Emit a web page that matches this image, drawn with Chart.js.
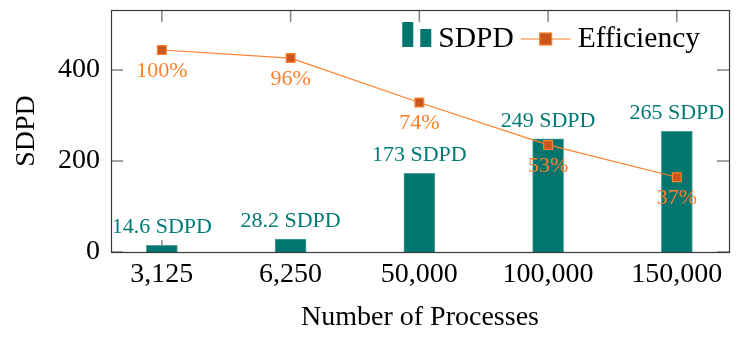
<!DOCTYPE html>
<html lang="en">
<head>
<meta charset="UTF-8">
<title>SDPD and Efficiency</title>
<script src="https://cdn.jsdelivr.net/npm/chart.js"></script>
<style>
  html, body { margin: 0; padding: 0; background: #fff; }
</style>
</head>
<body>
<canvas id="chart" width="741" height="339"></canvas>
<script>
// values
const processes = ['3,125', '6,250', '50,000', '100,000', '150,000'];
const sdpd = [14.6, 28.2, 173, 249, 265];
const sdpdLabels = ['14.6 SDPD', '28.2 SDPD', '173 SDPD', '249 SDPD', '265 SDPD'];
const efficiency = [100, 96, 74, 53, 37];
const efficiencyLabels = ['100%', '96%', '74%', '53%', '37%'];
const yTicks = [0, 200, 400];

const serif = '"Liberation Serif", "Times New Roman", serif';
const teal = '#00766f';
const tealText = '#007a74';
const orange = '#ff7f2a';
const orangeDark = '#c8561e';
const tickGray = '#8c8c8c';
const xMin = -0.395, xMax = 4.405;

// pgfplots-style inward tick marks, drawn as thin filled rects
function drawTickMarks(chart, sides) {
  const {ctx, chartArea: a} = chart;
  const xs = chart.scales.x, ys = chart.scales.y;
  ctx.save();
  ctx.fillStyle = tickGray;
  processes.forEach((_, i) => {
    const px = xs.getPixelForValue(i);
    if (sides.includes('top')) ctx.fillRect(px - 0.8, a.top, 1.6, 12);
    if (sides.includes('bottom')) ctx.fillRect(px - 0.8, a.bottom - 12, 1.6, 12);
  });
  yTicks.forEach(v => {
    const py = ys.getPixelForValue(v);
    if (sides.includes('left')) ctx.fillRect(a.left, py - 0.8, 12, 1.6);
    if (sides.includes('right')) ctx.fillRect(a.right - 12, py - 0.8, 12, 1.6);
  });
  ctx.restore();
}

const framePlugin = {
  id: 'frame',
  beforeDatasetsDraw(chart) {
    drawTickMarks(chart, ['bottom']);
  },
  afterDatasetsDraw(chart) {
    const {ctx, chartArea: a} = chart;
    drawTickMarks(chart, ['top', 'left', 'right']);
    ctx.save();
    ctx.strokeStyle = '#3a3a3a';
    ctx.lineWidth = 1.2;
    ctx.strokeRect(Math.round(a.left) + 0.5, Math.round(a.top) + 0.5,
                   Math.round(a.right - a.left), Math.round(a.bottom - a.top));

    // value labels
    ctx.textAlign = 'center';
    ctx.textBaseline = 'middle';
    ctx.font = '22px ' + serif;
    ctx.fillStyle = tealText;
    chart.getDatasetMeta(1).data.forEach((el, i) => {
      ctx.fillText(sdpdLabels[i], el.x, el.y - 18);
    });
    ctx.fillStyle = orange;
    chart.getDatasetMeta(0).data.forEach((el, i) => {
      ctx.fillText(efficiencyLabels[i], el.x, el.y + 21);
    });

    // legend inside the plot, top right
    ctx.font = '29.5px ' + serif;
    ctx.textAlign = 'left';
    const cy = a.top + 29;
    const w1 = ctx.measureText('SDPD').width;
    const w2 = ctx.measureText('Efficiency').width;
    let lx = a.right - 29 - w2 - 7 - 50 - 7 - w1 - 6 - 30;
    ctx.fillStyle = teal;
    ctx.fillRect(lx, cy - 17, 11, 25);
    ctx.fillRect(lx + 18, cy - 10, 11, 18);
    lx += 30 + 6;
    ctx.fillStyle = '#000';
    ctx.fillText('SDPD', lx, cy);
    lx += w1 + 7;
    ctx.strokeStyle = orange;
    ctx.lineWidth = 1.2;
    ctx.beginPath();
    ctx.moveTo(lx, cy); ctx.lineTo(lx + 50, cy);
    ctx.stroke();
    ctx.fillStyle = orangeDark;
    ctx.fillRect(lx + 19, cy - 6, 12, 12);
    ctx.strokeRect(lx + 19, cy - 6, 12, 12);
    lx += 50 + 7;
    ctx.fillStyle = '#000';
    ctx.fillText('Efficiency', lx, cy);
    ctx.restore();
  }
};

new Chart(document.getElementById('chart'), {
  type: 'bar',
  data: {
    datasets: [
      {
        type: 'line',
        label: 'Efficiency',
        data: efficiency.map((v, i) => ({x: i, y: v})),
        yAxisID: 'y2',
        borderColor: orange,
        borderWidth: 1.2,
        backgroundColor: orangeDark,
        pointStyle: 'rect',
        pointRadius: 6.2,
        pointBorderWidth: 1.2,
        pointBorderColor: orange,
        pointBackgroundColor: orangeDark,
        tension: 0,
        order: 0
      },
      {
        type: 'bar',
        label: 'SDPD',
        data: sdpd.map((v, i) => ({x: i, y: v})),
        yAxisID: 'y',
        backgroundColor: teal,
        borderColor: '#4f9f9a',
        borderWidth: 1,
        barThickness: 31,
        order: 1
      }
    ]
  },
  options: {
    responsive: false,
    animation: false,
    devicePixelRatio: 1,
    layout: { padding: { top: 10, right: 12, left: 0, bottom: 0 } },
    plugins: { legend: { display: false }, tooltip: { enabled: false } },
    scales: {
      x: {
        type: 'linear',
        offset: false,
        bounds: 'data',
        min: xMin,
        max: xMax,
        grid: { display: false, drawTicks: false, offset: false },
        border: { display: false },
        afterBuildTicks: s => {
          s.ticks = processes.map((_, i) => ({value: i}));
          s.min = xMin; s.max = xMax;
        },
        afterFit: s => { s.height = 87; s.paddingLeft = 0; s.paddingRight = 0; },
        ticks: {
          color: '#000',
          font: { family: serif, size: 28 },
          padding: 6,
          maxRotation: 0,
          autoSkip: false,
          callback: v => processes[v]
        },
        title: {
          display: true,
          text: 'Number of Processes',
          color: '#000',
          font: { family: serif, size: 28 },
          padding: { top: 0, bottom: 5 }
        }
      },
      y: {
        min: 0,
        max: 532,
        grid: { display: false, drawTicks: false },
        border: { display: false },
        afterBuildTicks: s => { s.ticks = yTicks.map(v => ({value: v})); },
        afterFit: s => { s.width = 111; s.paddingTop = 0; s.paddingBottom = 0; },
        ticks: {
          color: '#000',
          font: { family: serif, size: 28 },
          padding: 11
        },
        title: {
          display: true,
          text: 'SDPD',
          color: '#000',
          font: { family: serif, size: 28 },
          padding: { top: 10, bottom: 0 }
        }
      },
      y2: {
        display: false,
        min: 0,
        max: 119.8
      }
    }
  },
  plugins: [framePlugin]
});
</script>
</body>
</html>
